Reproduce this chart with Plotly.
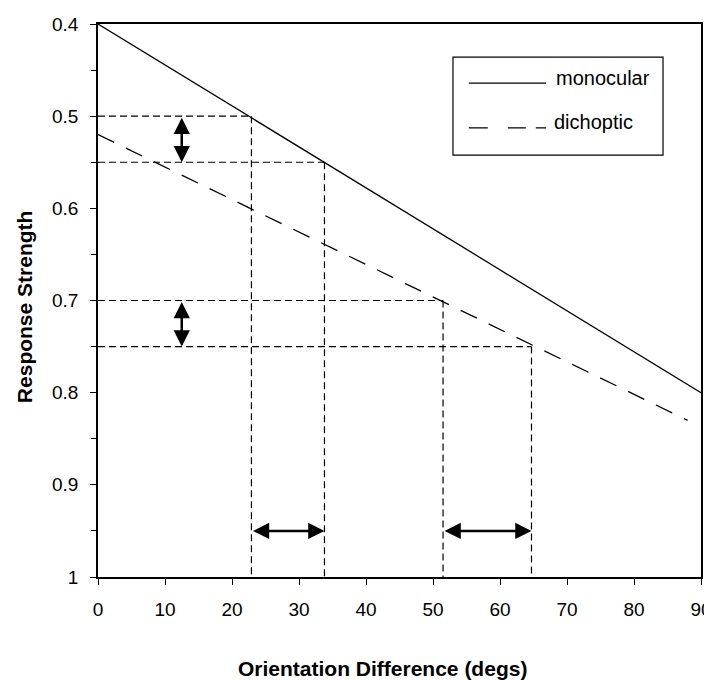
import plotly.graph_objects as go

# ---- data ----
mono_x = [0, 90]
mono_y = [0.4, 0.8]
dich_x = [0, 88]
dich_y = [0.52, 0.83]

guide_x = [22.9, 33.8, 51.5, 64.7]
guide_y = [0.5, 0.55, 0.7, 0.75]

varrow_x = 12.5
varrow_pairs = [(0.5, 0.55), (0.7, 0.75)]
harrow_y = 0.95
harrow_pairs = [(22.9, 33.8), (51.5, 64.7)]

x_ticks = [0, 10, 20, 30, 40, 50, 60, 70, 80, 90]
y_ticks = [0.4, 0.5, 0.6, 0.7, 0.8, 0.9, 1.0]
y_ticktext = ["0.4", "0.5", "0.6", "0.7", "0.8", "0.9", "1"]
y_minor = [0.45, 0.55, 0.65, 0.75, 0.85, 0.95]

series_names = ["monocular", "dichoptic"]

FONT = "Liberation Sans, Arial, sans-serif"

fig = go.Figure()

# guide lines (horizontal then vertical), thin short dashes
for gx, gy in zip(guide_x, guide_y):
    fig.add_trace(go.Scatter(x=[0, gx], y=[gy, gy], mode="lines",
                             line=dict(color="black", width=1.2, dash="7px,4px"),
                             showlegend=False, hoverinfo="skip"))
    fig.add_trace(go.Scatter(x=[gx, gx], y=[gy, 1.0], mode="lines",
                             line=dict(color="black", width=1.2, dash="7px,4px"),
                             showlegend=False, hoverinfo="skip"))

fig.add_trace(go.Scatter(x=mono_x, y=mono_y, mode="lines", name=series_names[0],
                         line=dict(color="black", width=1.3), showlegend=False))
fig.add_trace(go.Scatter(x=dich_x, y=dich_y, mode="lines", name=series_names[1],
                         line=dict(color="black", width=1.3, dash="18px,13px"),
                         showlegend=False))

annotations = []
for y0, y1 in varrow_pairs:
    annotations.append(dict(x=varrow_x, y=y1, ax=varrow_x, ay=y0,
                            xref="x", yref="y", axref="x", ayref="y",
                            text="", showarrow=True, arrowhead=2, startarrowhead=2,
                            arrowside="end+start", arrowwidth=2.5, arrowsize=1.3,
                            startarrowsize=1.3, arrowcolor="black"))
for x0, x1 in harrow_pairs:
    annotations.append(dict(x=x1, y=harrow_y, ax=x0, ay=harrow_y,
                            xref="x", yref="y", axref="x", ayref="y",
                            text="", showarrow=True, arrowhead=2, startarrowhead=2,
                            arrowside="end+start", arrowwidth=2.5, arrowsize=1.3,
                            startarrowsize=1.3, arrowcolor="black"))

# axis titles
annotations.append(dict(text="<b>Orientation Difference (degs)</b>", xref="paper", yref="paper",
                        x=0.471, y=-0.1646, yanchor="middle", xanchor="center", showarrow=False,
                        font=dict(family=FONT, size=21, color="black")))
annotations.append(dict(text="<b>Response Strength</b>", xref="paper", yref="paper",
                        x=-0.1227, y=0.488, textangle=-90, xanchor="center", yanchor="middle",
                        showarrow=False, font=dict(family=FONT, size=21, color="black")))

# custom legend (box, samples, labels)
annotations.append(dict(text=series_names[0], xref="paper", yref="paper", x=0.756, y=0.902,
                        xanchor="left", yanchor="middle", showarrow=False,
                        font=dict(family=FONT, size=20, color="black")))
annotations.append(dict(text=series_names[1], xref="paper", yref="paper", x=0.753, y=0.823,
                        xanchor="left", yanchor="middle", showarrow=False,
                        font=dict(family=FONT, size=20, color="black")))
shapes = [
    dict(type="rect", xref="paper", yref="paper", x0=0.5887, x1=0.937, y0=0.763, y1=0.940,
         line=dict(color="black", width=1.2), fillcolor="white", layer="above"),
    dict(type="line", xref="paper", yref="paper", x0=0.615, x1=0.743, y0=0.893, y1=0.893,
         line=dict(color="black", width=1.3), layer="above"),
    dict(type="line", xref="paper", yref="paper", x0=0.615, x1=0.743, y0=0.812, y1=0.812,
         line=dict(color="black", width=1.3, dash="19px,20px,18px,10px"), layer="above"),
]

fig.update_layout(
    width=712, height=672,
    margin=dict(l=90, r=19, t=16, b=103, autoexpand=False),
    paper_bgcolor="white", plot_bgcolor="white",
    font=dict(family=FONT, size=19, color="black"),
    annotations=annotations,
    shapes=shapes,
    showlegend=False,
)

fig.update_xaxes(range=[0, 90], tickvals=x_ticks, ticks="outside", ticklen=6,
                 tickcolor="black", showline=True, linecolor="black", linewidth=1.5,
                 mirror=True, showgrid=False, zeroline=False, ticklabelstandoff=8,
                 automargin=False,
                 tickfont=dict(family=FONT, size=19, color="black"))
fig.update_yaxes(range=[1.0, 0.4], tickvals=y_ticks, ticktext=y_ticktext,
                 ticks="outside", ticklen=6, tickcolor="black",
                 minor=dict(tickvals=y_minor, ticks="outside",
                            ticklen=5, tickcolor="black", showgrid=False),
                 showline=True, linecolor="black", linewidth=1.5, mirror=True,
                 showgrid=False, zeroline=False, ticklabelstandoff=8,
                 automargin=False,
                 tickfont=dict(family=FONT, size=19, color="black"))

fig.write_html("out.html")
